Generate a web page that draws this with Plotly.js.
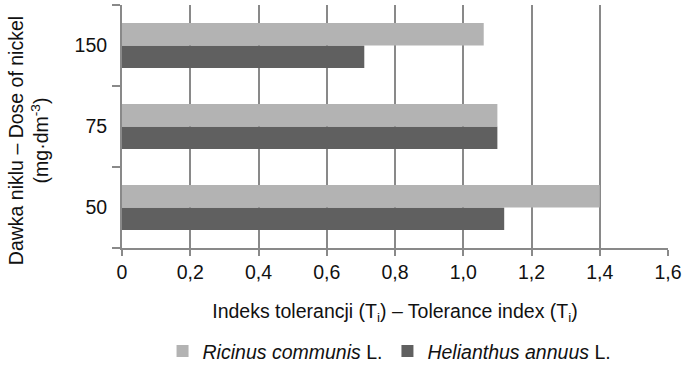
<!DOCTYPE html>
<html>
<head>
<meta charset="utf-8">
<script src="https://cdn.plot.ly/plotly-3.0.1.min.js"></script>
<style>html,body{margin:0;padding:0;background:#fff;}#chart{width:685px;height:365px;}</style>
</head>
<body>
<div id="chart"></div>
<script>
// Data
var doses = ['50', '75', '150'];
var ricinus = [1.40, 1.10, 1.06];
var helianthus = [1.12, 1.10, 0.71];
var xTickVals = [0, 0.2, 0.4, 0.6, 0.8, 1.0, 1.2, 1.4, 1.6];
var xTickText = ['0', '0,2', '0,4', '0,6', '0,8', '1,0', '1,2', '1,4', '1,6'];
var seriesNames = ['<i>Ricinus communis</i> L.', '<i>Helianthus annuus</i> L.'];

var FONT = 'Liberation Sans, Arial, sans-serif';
var AX = '#898989';
var FS = 19.5;
var TXT = '#111111';

var traces = [
  {
    type: 'bar', orientation: 'h',
    x: helianthus, y: doses, name: seriesNames[1],
    marker: {color: '#606060'},
    legendrank: 2, hoverinfo: 'x+y'
  },
  {
    type: 'bar', orientation: 'h',
    x: ricinus, y: doses, name: seriesNames[0],
    marker: {color: '#b3b3b3'},
    legendrank: 1, hoverinfo: 'x+y'
  }
];

var layout = {
  width: 685, height: 365,
  margin: {l: 122, r: 17, t: 5, b: 117, autoexpand: false},
  paper_bgcolor: '#ffffff', plot_bgcolor: '#ffffff',
  font: {family: FONT, size: FS, color: TXT},
  barmode: 'group', bargap: 0.444, bargroupgap: 0,
  showlegend: true,
  legend: {
    orientation: 'h', x: 0.49, xanchor: 'center', y: -0.425, yanchor: 'middle',
    font: {family: FONT, size: FS, color: TXT},
    traceorder: 'normal', itemwidth: 30
  },
  xaxis: {
    range: [0, 1.6], tickmode: 'array', tickvals: xTickVals, ticktext: xTickText,
    showgrid: true, gridcolor: AX, gridwidth: 2,
    showline: true, linecolor: AX, linewidth: 2,
    ticks: 'outside', ticklen: 6, tickwidth: 2, tickcolor: AX,
    ticklabelstandoff: 0, automargin: false,
    zeroline: false, fixedrange: true,
    tickfont: {family: FONT, size: FS, color: TXT},
    title: {text: 'Indeks tolerancji (T<sub>i</sub>) – Tolerance index (T<sub>i</sub>)', standoff: 22,
      font: {family: FONT, size: FS, color: TXT}}
  },
  yaxis: {
    type: 'category', categoryorder: 'array', categoryarray: doses,
    showgrid: false, showline: true, linecolor: AX, linewidth: 2,
    ticks: 'outside', tickson: 'boundaries', ticklen: 8, tickwidth: 2, tickcolor: AX,
    ticklabelstandoff: 9, automargin: false,
    zeroline: false, fixedrange: true,
    tickfont: {family: FONT, size: FS, color: TXT}
  },
  annotations: [
    {
      xref: 'paper', yref: 'paper', x: -0.172, y: 0.44,
      xanchor: 'center', yanchor: 'middle', textangle: -90, showarrow: false,
      text: 'Dawka niklu – Dose of nickel<br>(mg·dm<sup>-3</sup>)',
      font: {family: FONT, size: FS, color: TXT}
    }
  ]
};

Plotly.newPlot('chart', traces, layout, {displayModeBar: false, staticPlot: true});
</script>
</body>
</html>
